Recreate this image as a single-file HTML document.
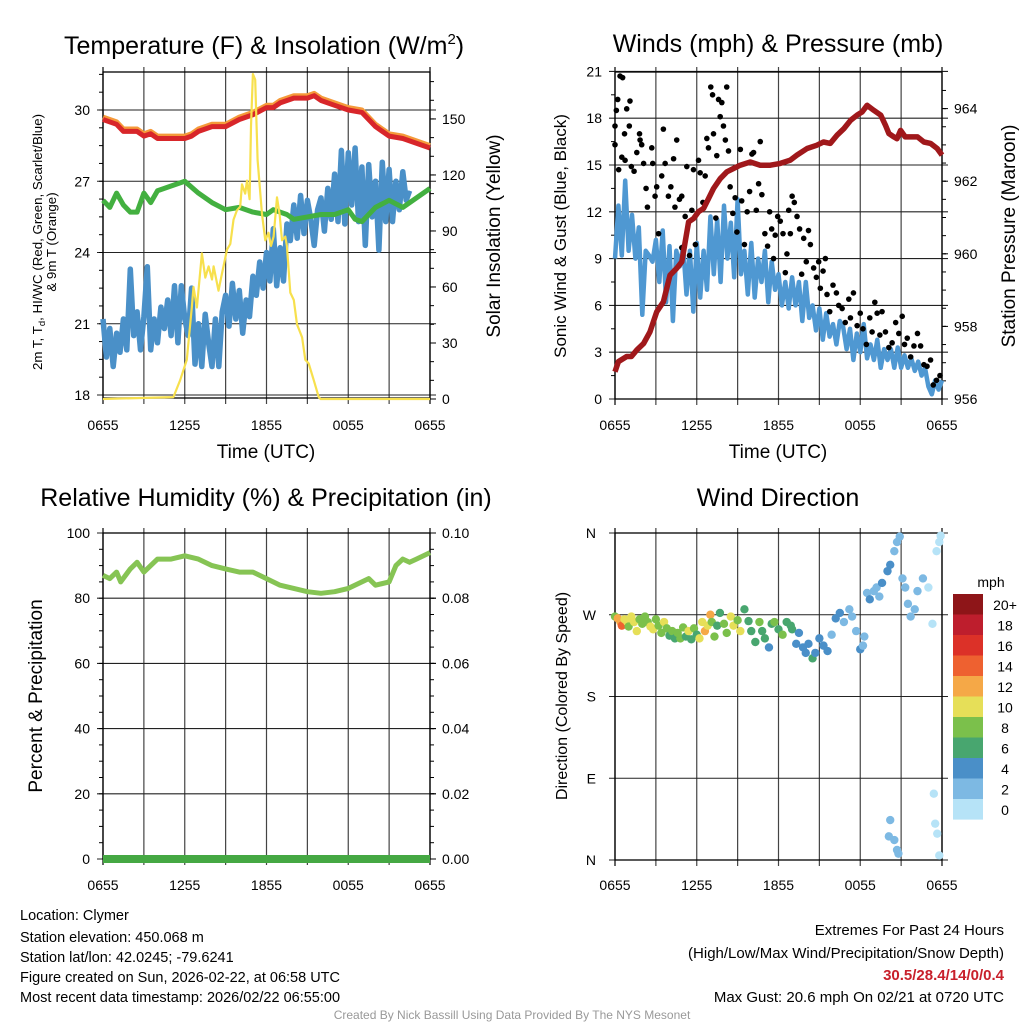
<!DOCTYPE html>
<html><head><meta charset="utf-8"><title>Mesonet Station Meteogram</title>
<style>
html,body{margin:0;padding:0;background:#fff;}
svg{display:block;font-family:"Liberation Sans",Arial,sans-serif;}
</style></head>
<body>
<svg id="chart" width="1024" height="1024" viewBox="0 0 1024 1024" xmlns="http://www.w3.org/2000/svg">
<rect x="0" y="0" width="1024" height="1024" fill="#fff"/>
<g id="layer"></g>
<text x="64" y="54" font-size="25">Temperature (F) &amp; Insolation (W/m<tspan dy="-10" font-size="15">2</tspan><tspan dy="10">)</tspan></text>
<text x="778" y="52" font-size="25" text-anchor="middle">Winds (mph) &amp; Pressure (mb)</text>
<text x="266" y="506" font-size="25" text-anchor="middle">Relative Humidity (%) &amp; Precipitation (in)</text>
<text x="778" y="506" font-size="25" text-anchor="middle">Wind Direction</text>
<text transform="translate(42,242) rotate(-90)" font-size="13.3" text-anchor="middle">2m T, T<tspan dy="3" font-size="9.5">d</tspan><tspan dy="-3">, HI/WC (Red, Green, Scarlet/Blue)</tspan></text>
<text transform="translate(56,242) rotate(-90)" font-size="13.3" text-anchor="middle">&amp; 9m T (Orange)</text>
<text transform="translate(500,236) rotate(-90)" font-size="19" text-anchor="middle">Solar Insolation (Yellow)</text>
<text x="266" y="458" font-size="19" text-anchor="middle">Time (UTC)</text>
<text transform="translate(566,236) rotate(-90)" font-size="17" text-anchor="middle">Sonic Wind &amp; Gust (Blue, Black)</text>
<text transform="translate(1015,236) rotate(-90)" font-size="19" text-anchor="middle">Station Pressure (Maroon)</text>
<text x="778" y="458" font-size="19" text-anchor="middle">Time (UTC)</text>
<text transform="translate(42,696) rotate(-90)" font-size="19" text-anchor="middle">Percent &amp; Precipitation</text>
<text transform="translate(567,696) rotate(-90)" font-size="16" text-anchor="middle">Direction (Colored By Speed)</text>
<text x="991" y="587" font-size="14" text-anchor="middle">mph</text>
<g font-size="14.5">
<text x="20" y="920">Location: Clymer</text>
<text x="20" y="942">Station elevation: 450.068 m</text>
<text x="20" y="962">Station lat/lon: 42.0245; -79.6241</text>
<text x="20" y="982">Figure created on Sun, 2026-02-22, at 06:58 UTC</text>
<text x="20" y="1002">Most recent data timestamp: 2026/02/22 06:55:00</text>
</g>
<g font-size="15" text-anchor="end">
<text x="1004" y="935">Extremes For Past 24 Hours</text>
<text x="1004" y="958">(High/Low/Max Wind/Precipitation/Snow Depth)</text>
<text x="1004" y="980" fill="#c8202b" font-weight="bold">30.5/28.4/14/0/0.4</text>
<text x="1004" y="1002">Max Gust: 20.6 mph On 02/21 at 0720 UTC</text>
</g>
<text x="512" y="1019" font-size="12" fill="#999" text-anchor="middle">Created By Nick Bassill Using Data Provided By The NYS Mesonet</text>
</svg>
<script>
const xTickLabels = ["0655","1255","1855","0055","0655"];
// Panel 1 data (hours since 0655 UTC)
const tempTimes = [0,1,1.5,2,2.5,3,3.5,4,4.5,5,6,6.5,7,8,9,10,11,12,12.5,13,14,15,15.5,16,17,18,19,20,21,22,23,24];
const tempValues = [29.6,29.4,29.1,29.1,29.1,28.9,29.0,28.8,28.8,28.8,28.8,28.9,29.1,29.3,29.3,29.6,29.8,30.1,30.1,30.3,30.5,30.5,30.6,30.4,30.2,30.0,29.9,29.3,28.9,28.8,28.6,28.4];
const temp9mValues = [29.7,29.5,29.2,29.2,29.2,29.0,29.1,28.9,28.9,28.9,28.9,29.0,29.2,29.4,29.4,29.7,29.9,30.2,30.2,30.4,30.6,30.6,30.7,30.5,30.3,30.1,30.0,29.4,29.0,28.9,28.7,28.5];
const hiwcTimes = [0,0.5,1,1.5,2,2.5,3,3.5,4,5,6,7,8,9,10,10.5,11,12,12.5,13,13.5,14,15,16,17,18,18.5,19,19.5,20,21,22,23,24];
const hiwcValues = [26.2,25.9,26.5,26.0,25.7,25.7,26.5,26.1,26.6,26.8,27.0,26.5,26.1,25.8,25.9,25.8,25.7,25.6,25.8,25.7,25.6,25.4,25.5,25.6,25.6,25.8,25.4,25.3,25.6,25.9,26.2,25.9,26.3,26.7];
const dewStep = 0.25;
const dewValues = [21.2,19.6,20.8,19.2,20.6,19.8,21.2,19.9,23.3,20.5,21.5,19.9,21.3,23.4,19.9,21.2,20.2,21.7,20.8,22.0,20.5,22.6,20.2,22.6,21.2,20.5,22.5,19.3,21.0,19.2,21.4,20.2,19.2,21.2,19.2,21.5,22.2,20.9,22.7,21.2,22.4,20.6,22.0,21.3,23.0,22.2,23.6,22.5,24.0,22.8,25.0,22.6,24.2,22.8,25.2,24.5,26.0,24.6,26.4,24.8,26.2,25.4,24.3,25.8,26.3,24.9,26.7,25.4,27.3,25.3,28.3,25.2,28.2,26.0,28.4,25.3,27.6,24.3,27.7,25.5,27.0,24.1,27.8,25.3,27.5,25.3,27.0,25.8,27.4,26.2,26.6];
const solarTimes = [0,5.17,5.66,6.15,6.52,6.64,6.89,7.26,7.51,7.75,8.0,8.12,8.48,8.73,9.1,9.34,9.58,9.83,10.07,10.2,10.44,10.57,10.76,10.86,11.0,11.17,11.35,11.67,11.91,12.15,12.33,12.52,12.77,12.96,13.14,13.38,13.5,13.75,14.0,14.24,14.61,14.85,15.1,15.47,15.83,15.96,24];
const solarValues = [0,1,10,21,49,60,49,78,65,71,64,71,58,67,80,83,96,101,103,115,110,117,107,146,174,171,128,99,85,89,82,87,108,99,85,87,82,57,53,40,33,21,19,10,1,0,0];
const tempTicks = [18,21,24,27,30];
const solarTicks = [0,30,60,90,120,150];
// Panel 2 data
const windStep = 0.25;
const windValues = [9.0,12.4,9.2,14.0,9.5,11.8,9.0,11.0,5.4,9.5,9.2,8.8,10.2,7.5,10.8,6.2,9.8,5.0,9.5,8.5,9.8,6.7,9.5,5.6,10.0,6.5,9.5,7.0,11.7,8.0,11.5,7.5,12.4,9.0,11.3,7.8,12.8,8.0,9.5,6.7,10.0,6.5,9.0,7.5,9.5,6.2,8.8,7.0,8.0,6.0,7.5,5.8,7.8,6.0,7.5,5.0,7.5,5.2,6.0,4.4,5.8,3.8,5.5,4.0,4.8,3.5,5.0,4.6,3.2,4.5,2.5,4.2,3.0,4.8,2.6,3.5,2.5,3.8,2.0,3.2,2.5,3.2,2.0,3.3,2.0,2.8,2.0,2.6,1.8,2.4,1.5,2.0,0.8,0.3,1.2,0.6,1.2];
const gustTimes = [0,0,0.1,0.2,0.37,0.56,0.27,0.5,0.7,0.86,1.05,1.1,0.74,1.2,1.4,1.6,1.8,1.84,1.96,2.1,2.28,2.38,2.7,2.77,2.94,3.06,3.2,3.43,3.55,3.68,3.92,4.1,4.3,4.4,4.53,4.73,4.9,4.9,5.15,5.27,5.47,5.64,5.76,5.9,6.13,6.25,6.45,6.62,6.74,6.86,7.03,7.16,7.23,7.4,7.47,7.6,7.72,7.84,7.96,8.1,8.2,8.33,8.45,8.65,8.82,8.95,9.2,9.3,9.5,9.7,9.88,10.05,10.17,10.37,10.54,10.66,10.78,11.0,11.2,11.35,11.5,11.64,11.76,11.94,12.13,12.33,12.5,12.62,12.75,12.87,13.0,13.16,13.36,13.55,13.7,13.85,14.04,14.2,14.34,14.58,14.78,14.95,15.07,15.27,15.44,15.56,15.76,16.0,16.25,16.42,16.67,16.9,17.16,17.28,17.5,17.77,18.0,18.2,18.45,18.7,18.87,19.07,19.24,19.44,19.6,19.85,20.1,20.34,20.6,20.83,21.08,21.25,21.45,21.7,21.94,22.2,22.43,22.67,22.9,23.16,23.36,23.6,23.85];
const gustValues = [16.3,17.5,18.5,19.2,20.7,20.6,14.7,15.5,17.0,18.6,17.5,19.1,15.3,14.9,14.6,15.8,17.0,16.6,16.3,15.1,13.5,12.3,16.1,15.1,13.0,13.6,10.6,14.3,17.3,15.1,13.0,13.6,15.4,12.3,16.6,12.8,13.0,9.7,11.7,14.9,9.2,12.1,14.7,9.9,15.3,14.5,12.6,14.3,16.7,16.1,20.0,19.5,17.0,11.6,15.6,19.2,18.1,19.0,17.5,16.6,20.0,15.9,13.6,11.9,12.9,10.7,16.0,12.7,9.9,12.0,13.3,15.7,15.8,12.1,13.8,16.5,13.1,10.6,9.8,12.0,10.9,9.0,10.5,11.7,11.4,10.6,8.1,9.3,12.1,10.6,13.0,12.6,11.7,10.9,8.0,10.3,8.8,10.8,9.9,8.4,7.8,8.8,7.1,8.2,9.0,6.7,5.6,7.3,6.8,6.0,5.8,4.9,6.4,5.2,6.8,4.7,5.5,4.5,3.5,5.2,4.3,6.2,5.5,4.1,5.6,4.3,3.3,3.6,4.9,4.2,5.3,3.5,3.9,2.7,3.4,4.2,3.4,2.2,2.1,2.5,0.9,1.2,1.5];
const pressTimes = [0,0.25,0.86,1.2,1.6,2.1,2.57,3.06,3.55,4.04,4.53,4.9,5.15,5.4,5.76,6.13,6.5,6.86,7.23,7.72,8.21,8.7,9.19,9.93,10.66,11.4,12.13,12.87,13.36,14.1,14.8,15.3,15.8,16.3,16.8,17.3,17.77,18.14,18.5,19.0,19.5,19.85,20.1,20.47,20.7,20.96,21.3,21.7,22.2,22.67,23.16,23.65,24];
const pressValues = [956.75,957.03,957.17,957.17,957.35,957.53,957.85,958.4,958.68,959.41,959.6,959.78,960.33,960.88,960.97,961.16,961.25,961.52,961.8,962.07,962.26,962.35,962.44,962.53,962.44,962.44,962.49,962.58,962.72,962.9,962.99,963.08,963.04,963.27,963.45,963.68,963.82,963.91,964.09,963.95,963.82,963.54,963.31,963.22,963.17,963.4,963.22,963.22,963.22,963.08,963.04,962.9,962.72];
const windTicks = [0,3,6,9,12,15,18,21];
const pressTicks = [956,958,960,962,964];
// Panel 3 data
const rhTimes = [0,0.5,1,1.3,2,2.5,3,3.5,4,5,6,7,8,9,10,11,12,13,14,15,16,17,18,19,19.5,20,21,21.5,22,22.5,23,24];
const rhValues = [87,86,88,85,89,91,88,90,92,92,93,92,90,89,88,88,86,84,83,82,81.5,82,83,85,86,84,85,90,92,91,92,94];
const precipTimes = [0,24];
const precipValues = [0,0];
const rhTicks = [0,20,40,60,80,100];
const precipTicks = ["0.00","0.02","0.04","0.06","0.08","0.10"];
// Panel 4 data
const dirTimes = [0,0.2,0.4,0.5,0.7,0.9,1.0,1.2,1.4,1.6,1.8,2.0,2.2,2.4,2.6,2.8,3.0,3.2,3.4,3.6,3.8,4.0,4.2,4.4,4.6,4.8,5.0,5.2,5.4,5.6,5.8,6.0,6.2,6.4,6.6,6.8,7.0,7.1,7.3,7.5,7.7,8.0,8.2,8.5,8.7,9.0,9.2,9.5,9.8,10.0,10.3,10.6,10.8,11.0,11.3,11.5,11.7,12.0,12.3,12.6,12.9,13.0,13.3,13.5,13.8,14.0,14.2,14.5,14.7,15.0,15.3,15.6,15.9,16.2,16.5,16.8,17.2,17.4,17.7,18.0,18.2,18.3,18.5,18.7,19.0,19.2,19.4,19.6,20.0,20.2,20.5,20.7,20.9,21.1,21.3,21.5,21.7,22.0,22.2,22.6,23.0,23.3,23.6,23.8,23.9,20.2,20.1,20.5,20.7,20.8,23.4,23.5,23.65,23.8];
const dirValues = [268,266,262,258,265,262,257,268,262,252,265,260,268,262,257,254,265,258,250,262,255,247,252,244,250,244,256,246,252,243,255,248,244,262,252,258,270,262,246,258,272,260,250,268,258,264,252,276,263,252,240,262,252,244,234,260,262,254,248,262,258,254,238,250,234,228,238,222,228,244,236,230,248,266,272,262,276,268,252,232,236,246,294,287,296,300,290,305,318,325,340,350,356,310,300,282,268,276,296,310,300,260,340,350,357,44,26,22,11,7,73,40,29,5];
const dirSpeeds = [9,12,13,15,10,11,9,10,11,10,8,8,9,8,10,10,8,9,8,10,8,7,8,7,8,8,9,7,10,6,9,7,11,11,12,10,12,9,9,7,7,8,8,10,10,8,10,7,7,7,7,8,7,6,4,7,8,7,8,7,6,6,5,4,5,4,4,6,4,5,4,4,3,4,4,3,3,3,2,5,3,2,3,4,3,3,2,4,4,4,3,3,2,3,3,2,3,3,2,2,1,1,1,1,1,2,2,2,2,2,1,1,1,1];
const dirTickLabels = ["N","E","S","W","N"];
const speedBinLabels = ["20+","18","16","14","12","10","8","6","4","2","0"];
const speedBinColors = ["#8e1518","#be1e2d","#dc3128","#ee6130","#f5a847","#e6df58","#7bc04b","#48a66f","#4a8fc8","#7db9e3","#b6e3f7"];

const NS = "http://www.w3.org/2000/svg";
const layer = document.getElementById("layer");
function mk(tag, attrs, parent) {
  const e = document.createElementNS(NS, tag);
  for (const k in attrs) e.setAttribute(k, attrs[k]);
  (parent || layer).appendChild(e);
  return e;
}
function panel(x0, x1, y0, y1) {
  return { x0, x1, y0, y1, x: h => x0 + (x1 - x0) * h / 24 };
}
function drawFrame(p, name, hLines, labelY) {
  const g = mk("g", {});
  
  
  for (let h = 0; h <= 24; h += 3) {
    const l = mk("line", { x1: p.x(h), x2: p.x(h), y1: p.y0 - 5, y2: p.y1 + 6, stroke: (h === 0 || h === 24) ? "#000" : "#444", "stroke-width": 1.2 }, g);
    
    
  }
  hLines.forEach(yv => {
    const l = mk("line", { x1: p.x0 - 6, x2: p.x1 + 6, y1: yv, y2: yv, stroke: "#222", "stroke-width": 1.1 }, g);
    
    
  });
  const r = mk("rect", { x: p.x0, y: p.y0, width: p.x1 - p.x0, height: p.y1 - p.y0, fill: "none", stroke: "#000", "stroke-width": 1.3 }, g);
  
  
  xTickLabels.forEach((t, i) => {
    const tx = mk("text", { x: p.x(i * 6), y: labelY, "font-size": 14, "text-anchor": "middle" }, g);
    tx.textContent = t;
    
    
  });
  return g;
}
function tickLabel(g, x, y, txt, anchor) {
  const t = mk("text", { x: x, y: y + 5, "font-size": 14, "text-anchor": anchor }, g);
  t.textContent = txt;
  
  
}
function minor(g, x, y, dir) {
  const l = mk("line", { x1: x, x2: x + dir * 4, y1: y, y2: y, stroke: "#000", "stroke-width": 1 }, g);
  
  
}
function pathD(xs, ys) {
  return xs.map((v, i) => (i ? "L" : "M") + v.toFixed(1) + "," + ys[i].toFixed(1)).join("");
}

// ---- Panel 1 ----
const p1 = panel(103, 430, 72, 398);
const yT = v => 395 - (v - 18) * 23.75;
const yS = v => 399 - v * 1.867;
const g1 = drawFrame(p1, 'temperature', tempTicks.map(yT), 430);
tempTicks.forEach(v => tickLabel(g1, p1.x0 - 13, yT(v), String(v), "end"));
for (let v = 18.75; v < 31.6; v += 0.75) minor(g1, p1.x0, yT(v), -1);
solarTicks.forEach(v => { tickLabel(g1, p1.x1 + 12, yS(v), String(v), "start"); minor(g1, p1.x1, yS(v), 1); minor(g1, p1.x1 + 2, yS(v), 1); });
for (let v = 10; v < 175; v += 10) minor(g1, p1.x1, yS(v), 1);
const dewLine = mk("path", { d: pathD(dewValues.map((v, i) => p1.x(i * dewStep)), dewValues.map(yT)), fill: "none", stroke: "#4a90c8", "stroke-width": 5.5, "stroke-linejoin": "round" });


const hiLine = mk("path", { d: pathD(hiwcTimes.map(p1.x), hiwcValues.map(yT)), fill: "none", stroke: "#43b040", "stroke-width": 5, "stroke-linejoin": "round" });


const t9Line = mk("path", { d: pathD(tempTimes.map(p1.x), temp9mValues.map(yT)), fill: "none", stroke: "#f59a3a", "stroke-width": 5, "stroke-linejoin": "round" });


const tLine = mk("path", { d: pathD(tempTimes.map(p1.x), tempValues.map(yT)), fill: "none", stroke: "#d8262a", "stroke-width": 5, "stroke-linejoin": "round" });


const solLine = mk("path", { d: pathD(solarTimes.map(p1.x), solarValues.map(yS)), fill: "none", stroke: "#f7e04d", "stroke-width": 2.2, "stroke-linejoin": "round" });



// ---- Panel 2 ----
const p2 = panel(615, 942, 72, 399);
const yW = v => 399 - v * 15.6;
const yP = v => 399 - (v - 956) * 36.3;
const g2 = drawFrame(p2, 'winds', windTicks.map(yW), 430);
windTicks.forEach(v => tickLabel(g2, p2.x0 - 13, yW(v), String(v), "end"));
for (let v = 1.5; v < 21; v += 3) minor(g2, p2.x0, yW(v), -1);
pressTicks.forEach(v => { tickLabel(g2, p2.x1 + 12, yP(v), String(v), "start"); minor(g2, p2.x1, yP(v), 1); minor(g2, p2.x1 + 2, yP(v), 1); });
for (let v = 956.5; v < 965; v += 0.5) minor(g2, p2.x1, yP(v), 1);
const wLine = mk("path", { d: pathD(windValues.map((v, i) => p2.x(i * windStep)), windValues.map(yW)), fill: "none", stroke: "#4f98d2", "stroke-width": 4.5, "stroke-linejoin": "round" });


gustTimes.forEach((t, i) => {
  const c = mk("circle", { cx: p2.x(t), cy: yW(gustValues[i]), r: 2.8, fill: "#000" });
  
  
});
const pLine = mk("path", { d: pathD(pressTimes.map(p2.x), pressValues.map(yP)), fill: "none", stroke: "#a0181b", "stroke-width": 5.5, "stroke-linejoin": "round" });



// ---- Panel 3 ----
const p3 = panel(103, 430, 533, 859);
const yR = v => 859 - v * 3.26;
const g3 = drawFrame(p3, 'humidity', rhTicks.map(yR), 890);
rhTicks.forEach((v, i) => { tickLabel(g3, p3.x0 - 13, yR(v), String(v), "end"); tickLabel(g3, p3.x1 + 12, yR(v), precipTicks[i], "start"); minor(g3, p3.x1, yR(v), 1); minor(g3, p3.x1 + 2, yR(v), 1); });
for (let v = 5; v < 100; v += 5) { minor(g3, p3.x0, yR(v), -1); minor(g3, p3.x1, yR(v), 1); }
const rhLine = mk("path", { d: pathD(rhTimes.map(p3.x), rhValues.map(yR)), fill: "none", stroke: "#86c454", "stroke-width": 5, "stroke-linejoin": "round" });


const prLine = mk("path", { d: pathD(precipTimes.map(p3.x), precipValues.map(v => yR(v * 1000))), fill: "none", stroke: "#45a843", "stroke-width": 8 });



// ---- Panel 4 ----
const p4 = panel(615, 942, 533, 860);
const yD = v => 860 - v / 360 * 327;
const dirTicks = dirTickLabels.map((l, i) => i * 90);
const g4 = drawFrame(p4, 'wind-direction', dirTicks.map(yD), 890);
dirTicks.forEach((v, i) => tickLabel(g4, p4.x0 - 19, yD(v), dirTickLabels[i], "end"));
function binColor(s) {
  const idx = Math.min(10, Math.floor(s / 2));
  return speedBinColors[10 - idx];
}
dirTimes.forEach((t, i) => {
  const c = mk("circle", { cx: p4.x(t), cy: yD(dirValues[i]), r: 4.2, fill: binColor(dirSpeeds[i]) });
  
  
});
const cb = mk("g", {});


speedBinLabels.forEach((l, i) => {
  const r = mk("rect", { x: 953, y: 594 + i * 20.5, width: 30, height: 20.6, fill: speedBinColors[i] }, cb);
  
  
  const t = mk("text", { x: 1005, y: 610 + i * 20.5, "font-size": 14, "text-anchor": "middle" }, cb);
  t.textContent = l;
  
  
});
</script>
</body></html>
